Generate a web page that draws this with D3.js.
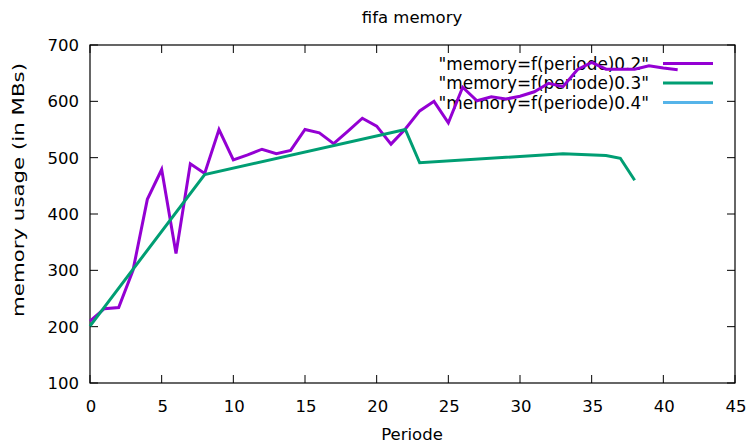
<!DOCTYPE html>
<html><head><meta charset="utf-8">
<script src="https://cdn.jsdelivr.net/npm/d3@7"></script>
<style>body{margin:0;background:#fff}svg text{font-family:"DejaVu Sans",sans-serif;fill:#000}</style>
</head><body><svg id="c" width="751" height="444"></svg>
<script>
const xTicks = [0,5,10,15,20,25,30,35,40,45];
const yTicks = [100,200,300,400,500,600,700];
const s02x = [0,1,2,3,4,5,6,7,8,9,10,11,12,13,14,15,16,17,18,19,20,21,22,23,24,25,26,27,28,29,30,31,32,33,34,35,36,37,38,39,40,41];
const s02y = [210,232,234,300,426,479,330,489,472,550,496,505,515,507,513,550,544,525,547,570,556,524,551,583,600,562,625,601,608,604,609,617,632,626,656,669,657,657,657,663,659,656];
const s03x = [0,8,22,23,33,36,37,38];
const s03y = [201,470,550,491,507,504,499,460];
const s04x = [];
const s04y = [];
const seriesNames = ['"memory=f(periode)0.2"','"memory=f(periode)0.3"','"memory=f(periode)0.4"'];
const colors = ["#9400d3","#009e73","#56b4e9"];

const svg = d3.select("#c");
const L=90,R=735,T=45,B=383;
const x = d3.scaleLinear().domain([0,45]).range([L,R]);
const y = d3.scaleLinear().domain([100,700]).range([B,T]);
const fs = 16.5;

const g = svg.append("g");
xTicks.forEach(t=>{
  g.append("line").attr("x1",x(t)).attr("x2",x(t)).attr("y1",B).attr("y2",B-8).attr("stroke","#000");
  g.append("line").attr("x1",x(t)).attr("x2",x(t)).attr("y1",T).attr("y2",T+8).attr("stroke","#000");
  g.append("text").attr("x",x(t)+1).attr("y",B+28.5).attr("text-anchor","middle").attr("font-size",fs).text(t);
});
yTicks.forEach(t=>{
  g.append("line").attr("x1",L).attr("x2",L+8).attr("y1",y(t)).attr("y2",y(t)).attr("stroke","#000");
  g.append("line").attr("x1",R).attr("x2",R-8).attr("y1",y(t)).attr("y2",y(t)).attr("stroke","#000");
  g.append("text").attr("x",L-11).attr("y",y(t)+6).attr("text-anchor","end").attr("font-size",fs).text(t);
});
svg.append("rect").attr("x",L).attr("y",T).attr("width",R-L).attr("height",B-T).attr("fill","none").attr("stroke","#000").attr("stroke-width",1.2);

svg.append("text").attr("x",412).attr("y",23).attr("text-anchor","middle").attr("font-size",fs).text("fifa memory");
svg.append("text").attr("x",412).attr("y",440).attr("text-anchor","middle").attr("font-size",fs).text("Periode");
svg.append("text").attr("transform","translate(24,190) rotate(-90)").attr("text-anchor","middle").attr("font-size",fs)
  .attr("textLength",254).attr("lengthAdjust","spacingAndGlyphs").text("memory usage (in MBs)");

seriesNames.forEach((n,i)=>{
  const yy = 63.5 + i*19.5;
  svg.append("text").attr("x",649).attr("y",yy+6).attr("text-anchor","end").attr("font-size",16.9).text(n);
  svg.append("line").attr("x1",663).attr("x2",713).attr("y1",yy).attr("y2",yy).attr("stroke",colors[i]).attr("stroke-width",3);
});

const line = d3.line().x(d=>x(d[0])).y(d=>y(d[1]));
[[s02x,s02y],[s03x,s03y],[s04x,s04y]].forEach((s,i)=>{
  const pts = s[0].map((v,j)=>[v,s[1][j]]);
  if(!pts.length) return;
  svg.append("path").attr("d",line(pts)).attr("fill","none").attr("stroke",colors[i]).attr("stroke-width",3).attr("stroke-linejoin","miter");
});
</script></body></html>
